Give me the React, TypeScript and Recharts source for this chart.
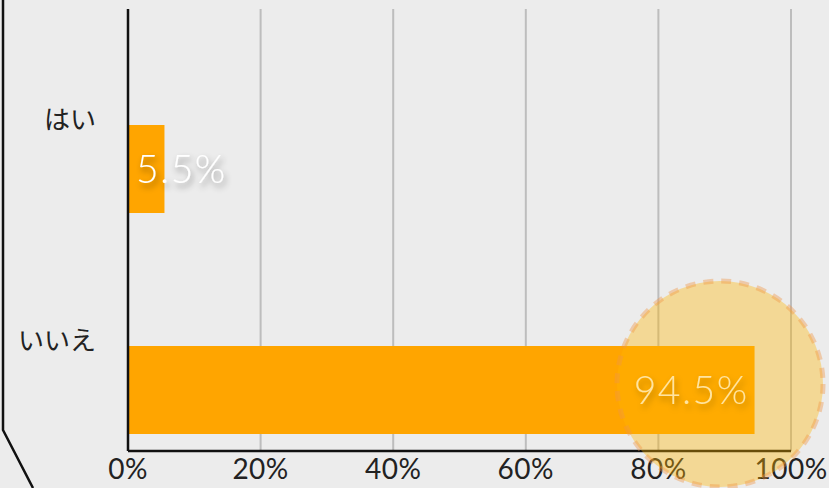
import {
  BarChart,
  Bar,
  XAxis,
  YAxis,
  CartesianGrid,
  LabelList
} from 'recharts';

// ==========================================
// DATA
// ==========================================

const categories = ['はい', 'いいえ'];

const percents = [5.5, 94.5];

const xTicks = [0, 20, 40, 60, 80, 100];

const chartData = categories.map((name, i) => ({
  name,
  value: percents[i]
}));

// bars sit lower than the band centre in the reference
const BAR_SHIFT = 49;

const FONT = '"Noto Sans CJK JP", "Noto Sans", sans-serif';

// ==========================================
// SHAPES
// ==========================================

function ShiftedBar(props: any) {
  const { x, y, width, height } = props;
  return (
    <rect
      x={x}
      y={y + BAR_SHIFT}
      width={width}
      height={height}
      fill="#ffa500"
    />
  );
}

function ValueLabel(props: any) {
  const { x, y, width, height, value, index } = props;
  const isLast = index === chartData.length - 1;
  const cy = y + height / 2 + BAR_SHIFT;
  return (
    <text
      x={isLast ? x + width - 6 : x + 8}
      y={cy}
      dy="0.36em"
      textAnchor={isLast ? 'end' : 'start'}
      fill="#ffffff"
      fontSize={39}
      fontWeight={300}
      letterSpacing={1.5}
      fontFamily="Lato, sans-serif"
      filter="url(#txtShadow)"
    >
      {value}%
    </text>
  );
}

// ==========================================
// APP
// ==========================================

export default function App() {
  return (
    <div
      style={{
        position: 'fixed',
        left: 0,
        top: 0,
        width: 829,
        height: 488,
        background: '#ececec',
        overflow: 'hidden',
        fontFamily: FONT
      }}
    >
      <BarChart
        width={829}
        height={488}
        data={chartData}
        layout="vertical"
        margin={{ top: 9, right: 38, bottom: 0, left: 0 }}
        barSize={88}
      >
        <defs>
          <filter id="txtShadow" x="-20%" y="-30%" width="150%" height="180%">
            <feDropShadow dx="2" dy="4" stdDeviation="3" floodColor="#000" floodOpacity="0.45" />
          </filter>
        </defs>

        <CartesianGrid
          horizontal={false}
          stroke="#bdbdbd"
          strokeWidth={2}
        />

        <XAxis
          type="number"
          domain={[0, 100]}
          ticks={xTicks}
          tickFormatter={(v) => `${v}%`}
          tickLine={false}
          axisLine={{ stroke: '#111', strokeWidth: 2.5 }}
          tick={{ fill: '#222', fontSize: 28, fontFamily: 'Lato, sans-serif', letterSpacing: 0.5 }}
          height={37}
          interval={0}
        />

        <YAxis
          type="category"
          dataKey="name"
          width={128}
          tickLine={false}
          tickMargin={26}
          axisLine={{ stroke: '#111', strokeWidth: 2.5 }}
          tick={{ fill: '#222', fontSize: 26, fontFamily: FONT }}
        />

        <Bar
          dataKey="value"
          shape={<ShiftedBar />}
          isAnimationActive={false}
        >
          <LabelList dataKey="value" content={<ValueLabel />} />
        </Bar>
      </BarChart>

      {/* decorations on top */}
      <svg
        width={829}
        height={488}
        style={{ position: 'absolute', left: 0, top: 0, pointerEvents: 'none' }}
      >
        <polyline
          points="3,0 3,430 33,488"
          fill="none"
          stroke="#111"
          strokeWidth={2.5}
        />
        <circle
          cx={720}
          cy={384}
          r={103}
          fill="rgba(255,182,0,0.37)"
          stroke="rgba(240,150,70,0.4)"
          strokeWidth={5}
          strokeDasharray="10 8"
        />
      </svg>
    </div>
  );
}
